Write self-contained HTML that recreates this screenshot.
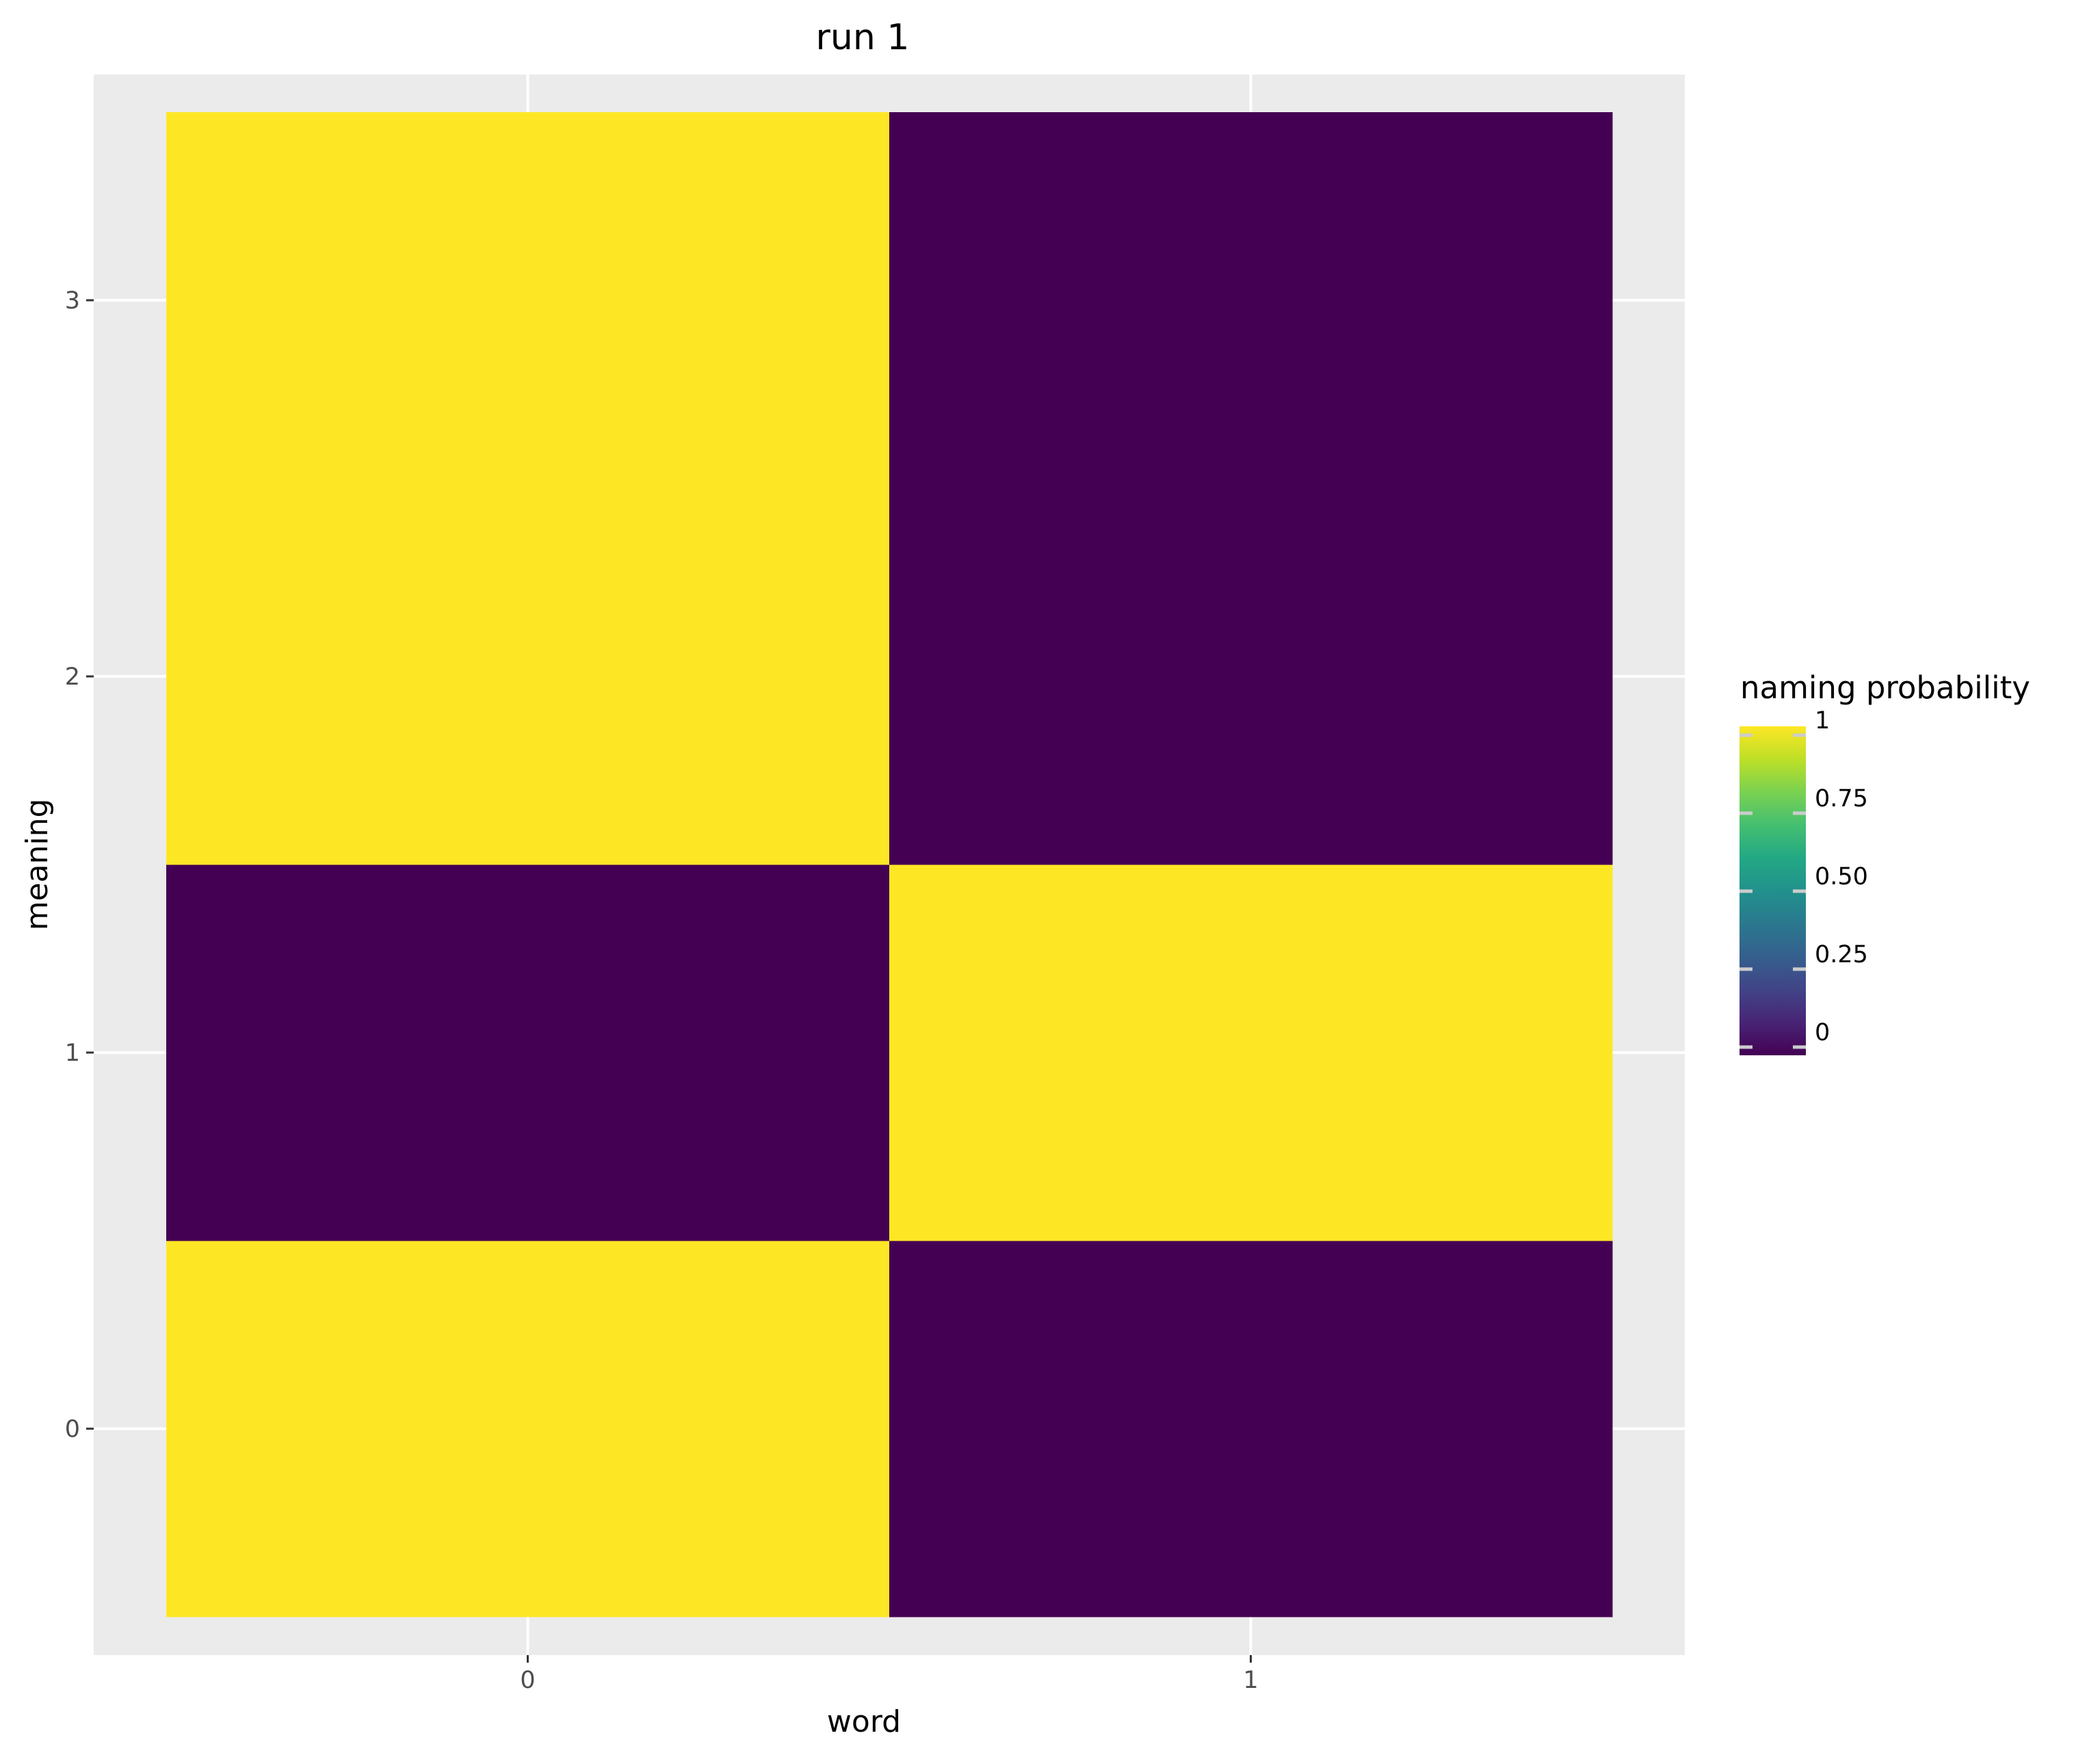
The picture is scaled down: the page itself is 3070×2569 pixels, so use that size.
<!DOCTYPE html>
<html><head><meta charset="utf-8"><style>
html,body{margin:0;padding:0;background:#fff;}
svg{display:block;font-family:"DejaVu Sans","Liberation Sans",sans-serif;}
</style></head><body>
<svg id="chart" width="3070" height="2569" viewBox="0 0 3070 2569" xmlns="http://www.w3.org/2000/svg">
<defs>
<linearGradient id="viridis" x1="0" y1="1" x2="0" y2="0">
<stop offset="0" stop-color="#440154"/><stop offset="0.1" stop-color="#482475"/><stop offset="0.2" stop-color="#414487"/><stop offset="0.3" stop-color="#355f8d"/><stop offset="0.4" stop-color="#2a788e"/><stop offset="0.5" stop-color="#21918c"/><stop offset="0.6" stop-color="#22a884"/><stop offset="0.7" stop-color="#44bf70"/><stop offset="0.8" stop-color="#7ad151"/><stop offset="0.9" stop-color="#bddf26"/><stop offset="1" stop-color="#fde725"/>
</linearGradient>
</defs>
<text x="1261" y="72" font-size="52" text-anchor="middle" fill="#000">run 1</text>
<rect x="137" y="109" width="2326" height="2311" fill="#ebebeb"/>
<g id="grid"></g>
<g id="tiles"></g>
<g id="axes"></g>
<text x="1263" y="2532" font-size="44" text-anchor="middle" fill="#000">word</text>
<text transform="translate(69,1264) rotate(-90)" font-size="44" text-anchor="middle" fill="#000">meaning</text>
<g>
<text x="2544" y="1021" font-size="45" fill="#000">naming probability</text>
<rect x="2543" y="1062" width="97" height="481" fill="url(#viridis)"/>
<g id="legend"></g>
</g>
</svg>
<script>
const words = [0, 1];
const meanings = [0, 1, 2, 3];
// values[meaning][word]
const values = [
  [1, 0],
  [0, 1],
  [1, 0],
  [1, 0]
];
const xTicks = ["0", "1"];
const yTicks = ["0", "1", "2", "3"];
const legendTicks = [0, 0.25, 0.5, 0.75, 1];
const legendLabels = ["0", "0.25", "0.50", "0.75", "1"];

const NS = "http://www.w3.org/2000/svg";
const tileL = 243, tileR = 2357, tileT = 164, tileB = 2364;
const cw = (tileR - tileL) / words.length;
const ch = (tileB - tileT) / meanings.length;
function xPos(w){ return tileL + cw * (w + 0.5); }
function yPos(m){ return tileB - ch * (m + 0.5); }
function colorOf(v){
  const stops = ["#440154","#482475","#414487","#355f8d","#2a788e","#21918c","#22a884","#44bf70","#7ad151","#bddf26","#fde725"];
  const i = Math.max(0, Math.min(10, Math.round(v * 10)));
  return stops[i];
}
function mk(tag, attrs, parent){
  const el = document.createElementNS(NS, tag);
  for (const k in attrs) el.setAttribute(k, attrs[k]);
  parent.appendChild(el);
  return el;
}
const grid = document.getElementById('grid');
const tiles = document.getElementById('tiles');
const axes = document.getElementById('axes');
const legend = document.getElementById('legend');

words.forEach((w) => {
  const l = mk('line', {x1: xPos(w), x2: xPos(w), y1: 109, y2: 2420, stroke: '#fff', 'stroke-width': 4}, grid);
  
  
});
meanings.forEach((m) => {
  const l = mk('line', {x1: 137, x2: 2463, y1: yPos(m), y2: yPos(m), stroke: '#fff', 'stroke-width': 4}, grid);
  
  
});

meanings.forEach((m, mi) => {
  words.forEach((w, wi) => {
    const r = mk('rect', {x: xPos(w) - cw/2, y: yPos(m) - ch/2, width: cw + 0.5, height: ch + 0.5, fill: colorOf(values[mi][wi])}, tiles);
    
    
  });
});

words.forEach((w, i) => {
  const t = mk('line', {x1: xPos(w), x2: xPos(w), y1: 2420, y2: 2431, stroke: '#333', 'stroke-width': 3}, axes);
  
  
  const tx = mk('text', {x: xPos(w), y: 2468, 'font-size': 35, 'text-anchor': 'middle', fill: '#4d4d4d'}, axes);
  tx.textContent = xTicks[i];
  
  
});
meanings.forEach((m, i) => {
  const t = mk('line', {x1: 126, x2: 137, y1: yPos(m), y2: yPos(m), stroke: '#333', 'stroke-width': 3}, axes);
  
  
  const tx = mk('text', {x: 117, y: yPos(m) + 12, 'font-size': 35, 'text-anchor': 'end', fill: '#4d4d4d'}, axes);
  tx.textContent = yTicks[i];
  
  
});

const barBottom = 1531, barScale = 456;
legendTicks.forEach((v, i) => {
  const y = barBottom - v * barScale;
  const a = mk('rect', {x: 2543, y: y - 2.5, width: 19, height: 5, fill: '#cccccc'}, legend);
  
  
  const b = mk('rect', {x: 2621, y: y - 2.5, width: 19, height: 5, fill: '#cccccc'}, legend);
  
  
  const tx = mk('text', {x: 2653, y: y - 10, 'font-size': 35, fill: '#000'}, legend);
  tx.textContent = legendLabels[i];
  
  
});
</script>
</body></html>
